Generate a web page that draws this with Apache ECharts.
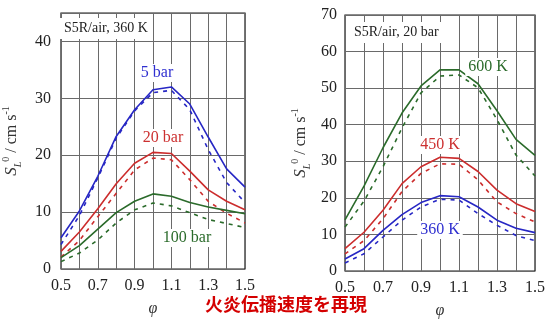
<!DOCTYPE html>
<html>
<head>
<meta charset="utf-8">
<script src="https://cdn.jsdelivr.net/npm/echarts@6/dist/echarts.min.js"></script>
<style>html,body{margin:0;padding:0;background:#fff}#c{width:549px;height:327px}</style>
</head>
<body>
<div id="c"></div>
<script>
// Equivalence ratio (x values)
var phi = [0.5, 0.6, 0.7, 0.8, 0.9, 1.0, 1.1, 1.2, 1.3, 1.4, 1.5];
var xTickLabels = ['0.5', '0.7', '0.9', '1.1', '1.3', '1.5'];

// Left panel: S5R/air, 360 K (pressure dependence)
var p5Solid   = [5.5, 10.2, 16.3, 23.3, 28.0, 31.5, 32.0, 29.0, 23.2, 17.6, 14.4];
var p5Dash    = [4.3, 9.4, 16.0, 23.0, 27.8, 31.0, 31.4, 28.0, 21.0, 15.2, 11.7];
var p20Solid  = [3.1, 6.5, 10.6, 15.0, 18.6, 20.5, 20.3, 17.2, 13.9, 11.9, 10.4];
var p20Dash   = [2.1, 5.0, 9.2, 13.3, 17.4, 19.5, 19.2, 15.7, 11.9, 9.8, 8.1];
var p100Solid = [2.0, 4.1, 7.0, 9.9, 11.9, 13.2, 12.8, 11.7, 10.9, 10.3, 9.7];
var p100Dash  = [1.3, 2.8, 5.1, 8.1, 10.4, 11.6, 11.1, 9.9, 8.7, 8.0, 7.3];

// Right panel: S5R/air, 20 bar (temperature dependence)
var t600Solid = [14.0, 23.2, 33.7, 43.2, 50.6, 55.0, 55.0, 51.2, 43.8, 36.0, 31.6];
var t600Dash  = [12.0, 19.1, 28.5, 39.1, 48.7, 53.3, 53.6, 50.1, 41.4, 31.7, 26.0];
var t450Solid = [6.1, 10.6, 16.6, 23.9, 28.5, 31.1, 30.8, 27.2, 22.1, 18.4, 16.3];
var t450Dash  = [4.7, 8.3, 14.3, 21.7, 26.7, 29.3, 29.2, 24.9, 18.9, 15.7, 13.4];
var t360Solid = [3.3, 6.1, 11.1, 15.4, 18.7, 20.6, 20.3, 17.5, 13.9, 11.7, 10.5];
var t360Dash  = [2.2, 4.7, 9.3, 13.9, 17.5, 19.6, 19.4, 15.7, 12.5, 9.7, 8.3];

var leftYTicks = [0, 10, 20, 30, 40];
var rightYTicks = [0, 10, 20, 30, 40, 50, 60, 70];

var BLUE = '#2727c4', RED = '#cc2d2d', GREEN = '#2b6b2b';
var SERIF = "'Liberation Serif','DejaVu Serif',serif";

function pairs(ys) { return phi.map(function (x, i) { return [x, ys[i]]; }); }
function line(name, ys, color, dashed, idx) {
  return {
    name: name, type: 'line', data: pairs(ys), xAxisIndex: idx, yAxisIndex: idx,
    symbol: 'none', silent: true, animation: false,
    lineStyle: { color: color, width: 1.6, type: dashed ? [4, 5] : 'solid' }
  };
}
function xAxis(idx) {
  return {
    type: 'value', gridIndex: idx, min: 0.5, max: 1.5, interval: 0.1,
    axisLine: { show: false }, axisTick: { show: false },
    splitLine: { show: true, lineStyle: { color: '#6a6a6a', width: 1 } },
    axisLabel: {
      margin: 9, color: '#222', fontFamily: SERIF, fontSize: 16,
      formatter: function (v) {
        var s = (Math.round(v * 10) / 10).toFixed(1);
        return xTickLabels.indexOf(s) >= 0 ? s : '';
      }
    },
    name: 'φ', nameLocation: 'middle', nameGap: 32,
    nameTextStyle: { fontFamily: SERIF, fontStyle: 'italic', fontSize: 16, color: '#333' }
  };
}
function yAxis(idx, max, ticks, gap, lblMargin) {
  return {
    type: 'value', gridIndex: idx, min: 0, max: max, interval: 10,
    axisLine: { show: false }, axisTick: { show: false },
    splitLine: { show: true, lineStyle: { color: '#6a6a6a', width: 1 } },
    axisLabel: {
      margin: lblMargin, color: '#222', fontFamily: SERIF, fontSize: 16,
      formatter: function (v) { return ticks.indexOf(Math.round(v)) >= 0 && Math.abs(v - Math.round(v)) < 1e-6 ? String(Math.round(v)) : ''; }
    },
    name: '{i|S}{sub|L}{sup|0}{n| / cm s}{sup|-1}',
    nameLocation: 'middle', nameRotate: 90, nameGap: gap,
    nameTextStyle: {
      color: '#333', fontFamily: SERIF, fontSize: 16,
      rich: {
        i: { fontFamily: SERIF, fontStyle: 'italic', fontSize: 17, color: '#333' },
        sub: { fontFamily: SERIF, fontStyle: 'italic', fontSize: 10, color: '#333', verticalAlign: 'bottom', lineHeight: 22 },
        sup: { fontFamily: SERIF, fontSize: 10, color: '#333', verticalAlign: 'top', lineHeight: 22 },
        n: { fontFamily: SERIF, fontSize: 16, color: '#333' }
      }
    }
  };
}
function label(text, x, y, color, size, bg) {
  return {
    type: 'text', x: x, y: y, z: 100,
    style: {
      text: text, fill: color, font: (size || 16) + 'px ' + SERIF,
      align: 'center', verticalAlign: 'middle',
      backgroundColor: bg ? '#fff' : null, padding: bg ? [1, 3] : 0
    }
  };
}

var chart = echarts.init(document.getElementById('c'), null, { renderer: 'canvas' });
chart.setOption({
  animation: false,
  backgroundColor: '#fff',
  grid: [
    { left: 55, top: 13, width: 190, height: 256, show: true, borderColor: '#1a1a1a', borderWidth: 1.2, backgroundColor: 'transparent' },
    { left: 345, top: 15, width: 190, height: 256, show: true, borderColor: '#1a1a1a', borderWidth: 1.2, backgroundColor: 'transparent' }
  ],
  xAxis: [xAxis(0), xAxis(1)],
  yAxis: [yAxis(0, 45, leftYTicks, 38, 10), yAxis(1, 70, rightYTicks, 33, 8)],
  series: [
    line('5 bar', p5Solid, BLUE, false, 0),
    line('5 bar calc', p5Dash, BLUE, true, 0),
    line('20 bar', p20Solid, RED, false, 0),
    line('20 bar calc', p20Dash, RED, true, 0),
    line('100 bar', p100Solid, GREEN, false, 0),
    line('100 bar calc', p100Dash, GREEN, true, 0),
    line('600 K', t600Solid, GREEN, false, 1),
    line('600 K calc', t600Dash, GREEN, true, 1),
    line('450 K', t450Solid, RED, false, 1),
    line('450 K calc', t450Dash, RED, true, 1),
    line('360 K', t360Solid, BLUE, false, 1),
    line('360 K calc', t360Dash, BLUE, true, 1)
  ],
  graphic: [
    {
      type: 'text', left: 59, top: 18, z: 100,
      style: { text: 'S5R/air, 360 K', fill: '#222', font: '14px ' + SERIF, backgroundColor: '#fff', padding: [3, 5, 4, 5] }
    },
    {
      type: 'text', left: 349, top: 22, z: 100,
      style: { text: 'S5R/air, 20 bar', fill: '#222', font: '14px ' + SERIF, backgroundColor: '#fff', padding: [3, 5, 4, 5] }
    },
    label('5 bar', 157, 73, '#3030d0', 16, true),
    label('20 bar', 163, 138, '#cc3030', 16, true),
    label('100 bar', 187, 238, '#2b6b2b', 16, true),
    label('600 K', 488, 67, '#2b6b2b', 16, true),
    label('450 K', 440, 145, '#cc3030', 16, true),
    label('360 K', 440, 230, '#3030d0', 16, true),
    {
      type: 'text', x: 286, y: 304, z: 100,
      style: {
        text: '火炎伝播速度を再現', fill: '#d40000',
        font: "bold 18px 'Noto Sans CJK JP', sans-serif",
        align: 'center', verticalAlign: 'middle'
      }
    }
  ]
});
</script>
</body>
</html>
